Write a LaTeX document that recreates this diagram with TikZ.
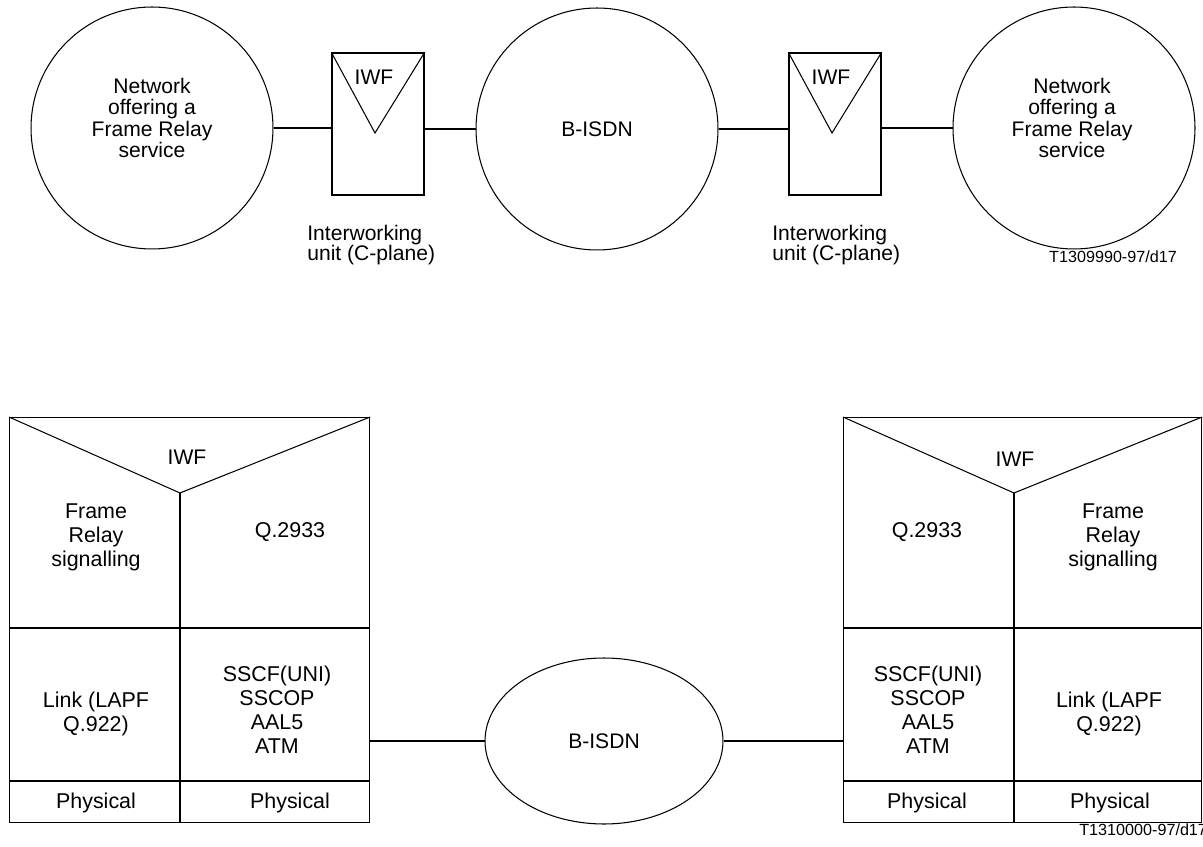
\documentclass[tikz,border=0pt]{standalone}
\usepackage{fontspec}
\setmainfont{Liberation Sans}
\usetikzlibrary{calc,shapes.geometric}

\begin{document}
\begin{tikzpicture}[x=0.02cm, y=-0.02cm,
		txt/.style={inner sep=0pt, align=center, font=\fontsize{12}{12}\selectfont},
		stacktxt/.style={txt, font=\fontsize{12.2}{13.7}\selectfont},
		idtxt/.style={txt, font=\fontsize{9.2}{9.2}\selectfont},
		unittxt/.style={txt, align=left, font={\fontsize{12}{11.4}\selectfont\lineskiplimit=-5pt\relax}},
		net/.style={draw, line width=0.6pt, circle, minimum size=4.84cm, inner sep=0pt},
		iwfbox/.style={draw, line width=0.7pt, minimum width=1.84cm, minimum height=2.84cm, inner sep=0pt},
		stack/.style={draw, line width=0.7pt, minimum height=8.1cm, inner sep=0pt},
		iwfvee/.style={line width=0.6pt},
		layer/.style={line width=1.1pt},
		conn/.style={line width=1.1pt}]
		\useasboundingbox (0,0) rectangle (1203,847);
		% ---- top: Frame Relay networks joined over B-ISDN ----
		\node[net] (frL) at (152,128) {};
		\node[txt] (frLt) at (152,118) {Network\\offering a\\Frame Relay\\service};
		\node[net, txt, inner sep=0pt] (bisdnA) at (597,129) {B-ISDN};
		\node[net] (frR) at (1074,128) {};
		\node[txt] (frRt) at (1072,118) {Network\\offering a\\Frame Relay\\service};
		\foreach \bx/\nm/\ux in {378/A/307, 835/B/772} {
			\node[iwfbox] (iwf\nm) at (\bx,124) {};
			\draw[iwfvee] (iwf\nm.north west) -- (\bx-3,133) -- (iwf\nm.north east);
			\node[txt] (iwflbl\nm) at (\bx-4,77) {IWF};
			\node[unittxt, anchor=north west] (iwu\nm) at (\ux,225) {Interworking\\unit (C-plane)};
		}
		\draw[conn] (frL.east) -- (frL.east -| iwfA.west);
		\draw[conn] (bisdnA.west -| iwfA.east) -- (bisdnA.west);
		\draw[conn] (bisdnA.east) -- (bisdnA.east -| iwfB.west);
		\draw[conn] (frR.west -| iwfB.east) -- (frR.west);
		\node[idtxt] (figA) at (1113,257) {T1309990-97/d17};
		% ---- bottom: protocol stacks of the two IWFs ----
		\foreach \sx/\nm/\sw in {9/L/7.2cm, 843/R/7.16cm} {
			\node[stack, minimum width=\sw, anchor=north west] (stack\nm) at (\sx,417) {};
			\draw[iwfvee] (stack\nm.north west) -- ++(171,76) coordinate (apex\nm) -- (stack\nm.north east);
			\draw[layer] (apex\nm) -- (apex\nm |- stack\nm.south);
			\foreach \ly in {628,781}
				\draw[layer] (stack\nm.west |- 0,\ly) -- (stack\nm.east |- 0,\ly);
		}
		\node[txt] (iwfLt) at (187,457) {IWF};
		\node[stacktxt] (sigL) at (96,537) {Frame\\Relay\\signalling};
		\node[stacktxt] (qL) at (290,532) {Q.2933};
		\node[stacktxt] (linkL) at (96,714) {Link (LAPF\\Q.922)};
		\node[stacktxt] (atmL) at (277,710) {SSCF(UNI)\\SSCOP\\AAL5\\ATM};
		\node[stacktxt] (phyLa) at (96,803) {Physical};
		\node[stacktxt] (phyLb) at (290,803) {Physical};
		\node[txt] (iwfRt) at (1015,459) {IWF};
		\node[stacktxt] (qR) at (927,532) {Q.2933};
		\node[stacktxt] (sigR) at (1113,537) {Frame\\Relay\\signalling};
		\node[stacktxt] (atmR) at (928,710) {SSCF(UNI)\\SSCOP\\AAL5\\ATM};
		\node[stacktxt] (linkR) at (1109,714) {Link (LAPF\\Q.922)};
		\node[stacktxt] (phyRa) at (927,803) {Physical};
		\node[stacktxt] (phyRb) at (1110,803) {Physical};
		\node[txt, draw, ellipse, line width=0.6pt, minimum width=4.76cm, minimum height=3.32cm] (bisdnB) at (604,741) {B-ISDN};
		\draw[conn] (bisdnB.west -| stackL.east) -- (bisdnB.west);
		\draw[conn] (bisdnB.east) -- (bisdnB.east -| stackR.west);
		\node[idtxt, anchor=west] (figB) at (1079,830) {T1310000-97/d17};
	\end{tikzpicture}
\end{document}
